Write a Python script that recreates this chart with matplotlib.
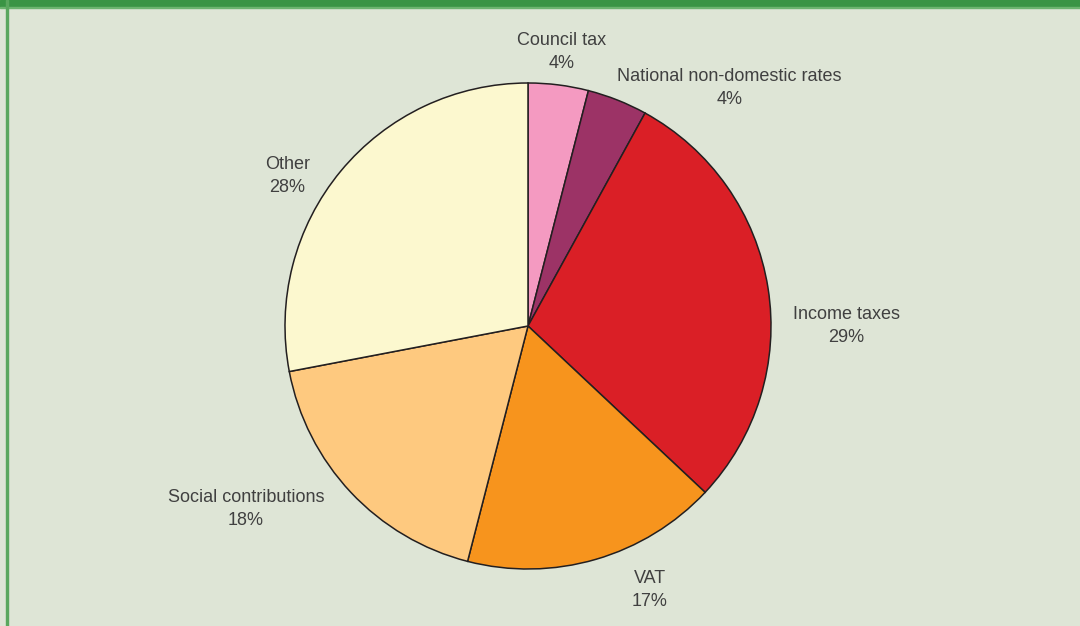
import matplotlib.pyplot as plt
from matplotlib.patches import Rectangle

plt.rcParams['font.family'] = ['Liberation Sans', 'DejaVu Sans']

labels = ['Council tax', 'National non-domestic rates', 'Income taxes',
          'VAT', 'Social contributions', 'Other']
shares = [4, 4, 29, 17, 18, 28]
colors = ['#f49ac1', '#9c3366', '#da1f26', '#f7941d', '#fec97f', '#fcf8cf']
# label anchors, in pie-radius units from the centre
label_pos = [(0.14, 1.128), (0.83, 0.98), (1.31, 0.0),
             (0.50, -1.086), (-1.16, -0.753), (-0.99, 0.617)]

W, H = 1080, 626
cx, cy, r = 528, 326, 243
bg = '#dee5d6'

fig = plt.figure(figsize=(W / 100, H / 100), dpi=100, facecolor=bg)
ax = fig.add_axes([0, 0, 1, 1])
ax.set_facecolor(bg)

ax.pie(shares, colors=colors, startangle=90, counterclock=False,
       wedgeprops=dict(edgecolor='#231f20', linewidth=1.1))

for lab, val, (x, y) in zip(labels, shares, label_pos):
    ax.text(x, y, f'{lab}\n{val}%', ha='center', va='center',
            fontsize=13, color='#404040', linespacing=1.5)

ax.set_xlim(-cx / r, (W - cx) / r)
ax.set_ylim(-(H - cy) / r, cy / r)
ax.set_aspect('auto')
ax.axis('off')

# green frame: heavy band on top, thin line on the left
fig.patches.append(Rectangle((0, 1 - 7 / H), 1, 7 / H, transform=fig.transFigure,
                             color='#3a9444', zorder=5))
fig.patches.append(Rectangle((0, 1 - 8 / H), 1, 1 / H, transform=fig.transFigure,
                             color='#6db46f', zorder=5))
fig.patches.append(Rectangle((6 / W, 0), 2 / W, 1, transform=fig.transFigure,
                             color='#5aa75e', zorder=5))

fig.savefig('out.png', dpi=100, facecolor=bg)
